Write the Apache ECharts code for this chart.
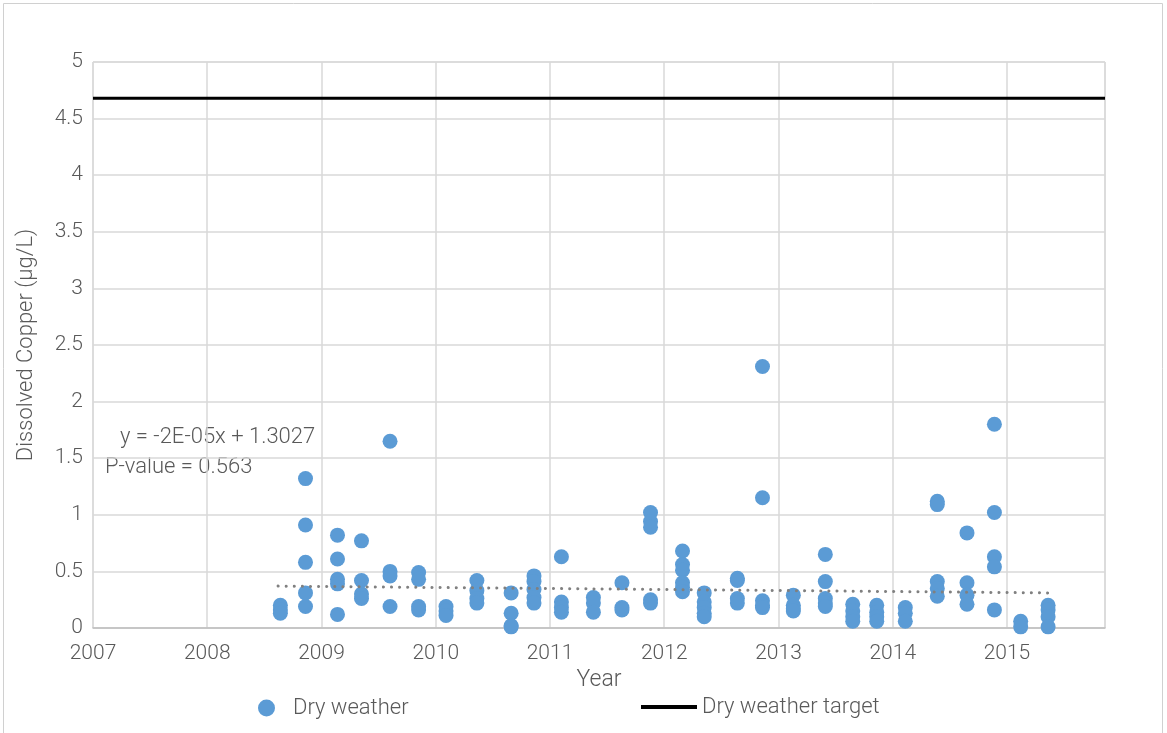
<!DOCTYPE html>
<html>
<head>
<meta charset="utf-8">
<script src="https://cdn.jsdelivr.net/npm/echarts@6/dist/echarts.min.js"></script>
<style>
  html, body { margin: 0; padding: 0; background: #fff; }
  #chart { width: 1167px; height: 733px; }
</style>
</head>
<body>
<div id="chart"></div>
<script>
// Sampling dates (decimal year) and dissolved copper results (µg/L) at each date
const sampleDates = [
  2008.64, 2008.86, 2009.14, 2009.35, 2009.60, 2009.85, 2010.09, 2010.36,
  2010.66, 2010.86, 2011.10, 2011.38, 2011.63, 2011.88, 2012.16, 2012.35,
  2012.64, 2012.86, 2013.13, 2013.41, 2013.65, 2013.86, 2014.11, 2014.39,
  2014.65, 2014.89, 2015.12, 2015.36
];
const sampleValues = [
  [0.2, 0.16, 0.13],
  [1.32, 0.91, 0.58, 0.31, 0.19],
  [0.82, 0.61, 0.43, 0.39, 0.12],
  [0.77, 0.42, 0.3, 0.26],
  [1.65, 0.5, 0.46, 0.19],
  [0.49, 0.43, 0.19, 0.16],
  [0.19, 0.15, 0.11],
  [0.42, 0.33, 0.26, 0.22],
  [0.31, 0.13, 0.02, 0.01],
  [0.46, 0.41, 0.34, 0.27, 0.22],
  [0.63, 0.23, 0.18, 0.14],
  [0.27, 0.22, 0.14],
  [0.4, 0.18, 0.16],
  [1.02, 0.94, 0.89, 0.25, 0.22],
  [0.68, 0.56, 0.51, 0.4, 0.36, 0.32],
  [0.31, 0.23, 0.18, 0.13, 0.1],
  [0.44, 0.42, 0.26, 0.22],
  [2.31, 1.15, 0.24, 0.2, 0.18],
  [0.29, 0.2, 0.17, 0.15],
  [0.65, 0.41, 0.26, 0.22, 0.19],
  [0.21, 0.15, 0.1, 0.06],
  [0.2, 0.14, 0.1, 0.06],
  [0.18, 0.13, 0.06],
  [1.12, 1.09, 0.41, 0.35, 0.28],
  [0.84, 0.4, 0.29, 0.21],
  [1.8, 1.02, 0.63, 0.54, 0.16],
  [0.06, 0.01],
  [0.2, 0.16, 0.1, 0.01]
];
const targetValue = 4.68;
const trendStart = [2008.62, 0.37];
const trendEnd = [2015.36, 0.31];
const xMin = 2007;
const xMax = 2015.858;
const equationText = 'y = -2E-05x + 1.3027';
const pValueText = 'P-value = 0.563';

const points = [];
sampleDates.forEach((d, i) => {
  sampleValues[i].forEach((v) => points.push([d, v]));
});

const FONT = 'Roboto, "Liberation Sans", sans-serif';
const TEXT = '#595959';

const chart = echarts.init(document.getElementById('chart'));
chart.setOption({
  animation: false,
  textStyle: { fontFamily: FONT },
  grid: { left: 93, right: 62, top: 62, bottom: 105, show: true, borderColor: '#d0d0d0', borderWidth: 1 },
  graphic: [
    { type: 'rect', shape: { x: 3.5, y: 3.5, width: 1159, height: 740 }, style: { fill: 'none', stroke: '#d0d0d0', lineWidth: 1 }, silent: true },
    { type: 'text', left: 120, top: 426, style: { text: equationText, font: '300 22px ' + FONT, fill: TEXT } },
    { type: 'text', left: 105, top: 456, style: { text: pValueText, font: '300 22px ' + FONT, fill: TEXT } }
  ],
  xAxis: {
    type: 'value',
    min: xMin,
    max: xMax,
    interval: 1,
    name: 'Year',
    nameLocation: 'middle',
    nameGap: 38,
    nameTextStyle: { color: TEXT, fontSize: 23, fontWeight: 300 },
    axisLine: { show: true, lineStyle: { color: '#bfbfbf', width: 1.5 } },
    axisTick: { show: false },
    axisLabel: { color: TEXT, fontSize: 21, fontWeight: 300, margin: 15, showMaxLabel: false, formatter: (v) => String(Math.round(v)) },
    splitLine: { show: true, lineStyle: { color: '#d9d9d9', width: 1.5 } }
  },
  yAxis: {
    type: 'value',
    min: 0,
    max: 5,
    interval: 0.5,
    name: 'Dissolved Copper (µg/L)',
    nameLocation: 'middle',
    nameGap: 56,
    nameTextStyle: { color: TEXT, fontSize: 22, fontWeight: 300 },
    axisLine: { show: false },
    axisTick: { show: false },
    axisLabel: { color: TEXT, fontSize: 21, fontWeight: 300, margin: 10 },
    splitLine: { show: true, lineStyle: { color: '#d9d9d9', width: 1.5 } }
  },
  legend: [
    {
      data: [{ name: 'Dry weather', icon: 'circle' }],
      left: 253, top: 692, itemWidth: 17, itemHeight: 17, itemGap: 10,
      textStyle: { color: TEXT, fontSize: 22, fontWeight: 300, fontFamily: FONT, padding: [0, 0, 0, 13] }
    },
    {
      data: [{ name: 'Dry weather target', icon: 'rect' }],
      left: 636, top: 691, itemWidth: 56, itemHeight: 4, itemGap: 4,
      textStyle: { color: TEXT, fontSize: 22, fontWeight: 300, fontFamily: FONT }
    }
  ],
  series: [
    {
      name: 'Dry weather',
      type: 'scatter',
      symbol: 'circle',
      symbolSize: 15,
      itemStyle: { color: '#5b9bd5', opacity: 1 },
      data: points,
      z: 3
    },
    {
      name: 'Trend',
      type: 'line',
      data: [trendStart, trendEnd],
      symbol: 'none',
      lineStyle: { color: '#808080', width: 3, type: [0.1, 8], cap: 'round' },
      z: 4
    },
    {
      name: 'Dry weather target',
      type: 'line',
      data: [[xMin, targetValue], [xMax, targetValue]],
      symbol: 'none',
      itemStyle: { color: '#000' },
      lineStyle: { color: '#000', width: 3 },
      z: 5
    }
  ]
});
</script>
</body>
</html>
